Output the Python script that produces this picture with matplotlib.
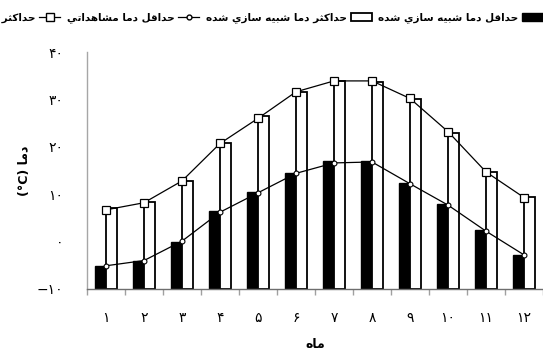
import matplotlib
matplotlib.use('Agg')
import matplotlib.pyplot as plt
import numpy as np
from matplotlib.patches import Patch
from matplotlib.lines import Line2D

# ---------------- data ----------------
months = list(range(1, 13))
month_labels = ['۱', '۲', '۳', '۴', '۵', '۶', '۷', '۸', '۹', '۱۰', '۱۱', '۱۲']
max_obs = [6.7, 8.2, 12.8, 20.7, 26.0, 31.6, 33.9, 33.9, 30.2, 23.2, 14.7, 9.3]
min_obs = [-5.1, -4.0, 0.1, 6.2, 10.3, 14.4, 16.6, 16.8, 12.2, 7.7, 2.2, -2.8]
max_sim = [7.1, 8.4, 12.8, 20.9, 26.4, 31.6, 33.9, 33.7, 30.0, 22.9, 14.7, 9.4]
min_sim = [-5.1, -4.0, -0.1, 6.4, 10.4, 14.5, 17.0, 17.0, 12.4, 7.9, 2.4, -2.8]
y_ticks = [-10, 0, 10, 20, 30, 40]
y_tick_labels = ['−۱۰', '۰', '۱۰', '۲۰', '۳۰', '۴۰']

lbl_max_obs = 'حداکثر دما مشاهداتی'
lbl_min_obs = 'حداقل دما مشاهداتی'
lbl_max_sim = 'حداکثر دما شبیه سازی شده'
lbl_min_sim = 'حداقل دما شبیه سازی شده'
x_title = 'ماه'
y_title_word = 'دما'
y_title_unit = '(°C)'

# ------------- minimal Persian shaping (matplotlib has no RTL shaping) -------------
FORMS = {  # iso, final, initial, medial
    'ا': (0xFE8D, 0xFE8E, None, None),
    'ب': (0xFE8F, 0xFE90, 0xFE91, 0xFE92),
    'ت': (0xFE95, 0xFE96, 0xFE97, 0xFE98),
    'ث': (0xFE99, 0xFE9A, 0xFE9B, 0xFE9C),
    'ح': (0xFEA1, 0xFEA2, 0xFEA3, 0xFEA4),
    'د': (0xFEA9, 0xFEAA, None, None),
    'ر': (0xFEAD, 0xFEAE, None, None),
    'ز': (0xFEAF, 0xFEB0, None, None),
    'س': (0xFEB1, 0xFEB2, 0xFEB3, 0xFEB4),
    'ش': (0xFEB5, 0xFEB6, 0xFEB7, 0xFEB8),
    'ق': (0xFED5, 0xFED6, 0xFED7, 0xFED8),
    'ک': (0xFED9, 0xFEDA, 0xFEDB, 0xFEDC),
    'ل': (0xFEDD, 0xFEDE, 0xFEDF, 0xFEE0),
    'م': (0xFEE1, 0xFEE2, 0xFEE3, 0xFEE4),
    'ه': (0xFEE9, 0xFEEA, 0xFEEB, 0xFEEC),
    'ی': (0xFEF1, 0xFEF2, 0xFEF3, 0xFEF4),
}


def rtl(text):
    out = []
    for i, c in enumerate(text):
        if c not in FORMS:
            out.append(c)
            continue
        prev = text[i - 1] if i > 0 else None
        nxt = text[i + 1] if i + 1 < len(text) else None
        jp = prev in FORMS and FORMS[prev][2] is not None
        jn = FORMS[c][2] is not None and nxt in FORMS
        iso, fin, ini, med = FORMS[c]
        if jp and jn:
            code = med
        elif jp:
            code = fin
        elif jn:
            code = ini
        else:
            code = iso
        out.append(chr(code))
    return ''.join(out)[::-1]


plt.rcParams['font.family'] = ['DejaVu Sans']

fig = plt.figure(figsize=(5.43, 3.55), dpi=100)
ax = fig.add_axes([87 / 543, 1 - 289 / 355, (543 - 87) / 543, (289 - 52) / 355])

x = np.array(months, dtype=float)
w = 0.3
base = -10
ax.bar(x - w / 2, np.array(min_sim) - base, bottom=base, width=w,
       color='black', edgecolor='black', linewidth=1.0, zorder=2)
ax.bar(x + w / 2, np.array(max_sim) - base, bottom=base, width=w,
       color='white', edgecolor='black', linewidth=1.3, zorder=2)
ax.plot(x, max_obs, color='black', linewidth=0.9, marker='s', markersize=5.5,
        markerfacecolor='white', markeredgecolor='black', markeredgewidth=0.9, zorder=4)
ax.plot(x, min_obs, color='black', linewidth=0.9, marker='o', markersize=3.5,
        markerfacecolor='white', markeredgecolor='black', markeredgewidth=0.8, zorder=4)

ax.set_xlim(0.5, 12.5)
ax.set_ylim(-10, 40)

for s in ['top', 'right']:
    ax.spines[s].set_visible(False)
ax.spines['left'].set_color('#a6a6a6')
ax.spines['left'].set_linewidth(1.0)
ax.spines['bottom'].set_color('#6e6e6e')
ax.spines['bottom'].set_linewidth(1.0)

ax.set_xticks(months)
ax.set_xticklabels(month_labels, fontsize=10)
ax.set_xticks(np.arange(0.5, 13.0, 1.0), minor=True)
ax.tick_params(axis='x', which='major', length=0, pad=16)
ax.tick_params(axis='x', which='minor', length=4, color='#a0a0a0', width=1.0, direction='out')

ax.set_yticks(y_ticks)
ax.set_yticklabels(y_tick_labels, fontsize=10)
ax.set_yticks([-10, 40], minor=True)
ax.tick_params(axis='y', which='major', length=0, pad=17)
ax.tick_params(axis='y', which='minor', length=10, color='#404040', width=1.0, direction='inout')

ax.set_xlabel(rtl(x_title), fontsize=9, fontweight='bold', labelpad=9)
ax.set_ylabel(y_title_unit + ' ' + rtl(y_title_word), fontsize=9, fontweight='bold', labelpad=4)

handles = [
    Line2D([], [], color='black', linewidth=0.9, marker='s', markersize=5.5,
           markerfacecolor='white', markeredgecolor='black'),
    Line2D([], [], color='black', linewidth=0.9, marker='o', markersize=3.5,
           markerfacecolor='white', markeredgecolor='black'),
    Patch(facecolor='white', edgecolor='black', linewidth=1.3),
    Patch(facecolor='black', edgecolor='black'),
]
labels = [rtl(lbl_max_obs), rtl(lbl_min_obs), rtl(lbl_max_sim), rtl(lbl_min_sim)]
leg = fig.legend(handles, labels, loc='center right', bbox_to_anchor=(1.0, 1 - 18 / 355),
                 ncol=4, markerfirst=False, frameon=False,
                 handlelength=2.0, handleheight=0.8, handletextpad=0.4,
                 columnspacing=0.6, borderaxespad=0.0, borderpad=0.0,
                 prop={'weight': 'bold', 'size': 7.5})

fig.savefig('out.png', dpi=100)
